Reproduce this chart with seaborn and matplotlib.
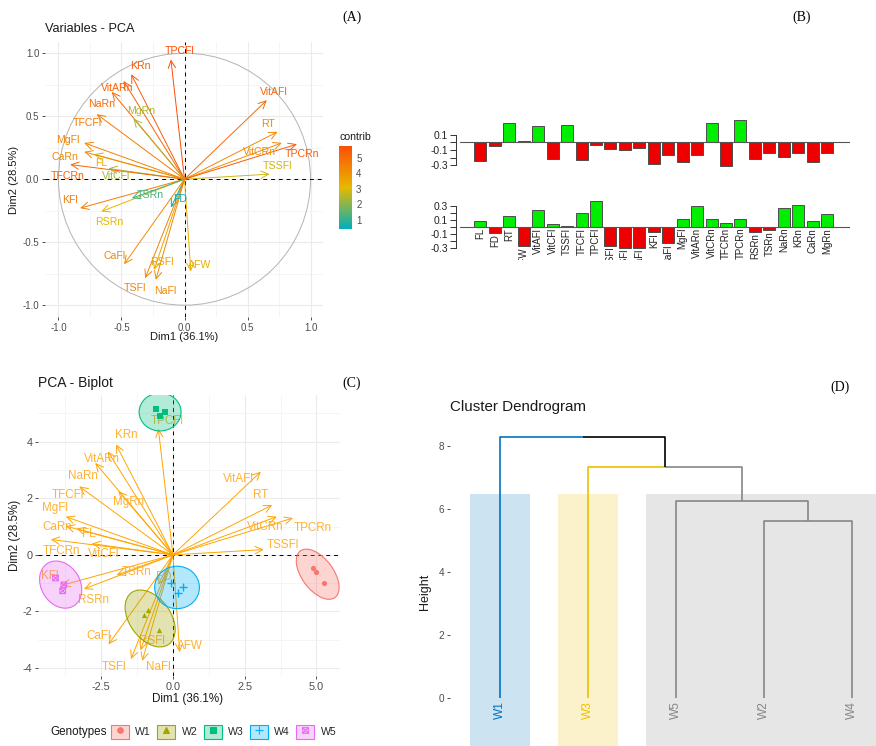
import numpy as np
import pandas as pd
import matplotlib
matplotlib.use("Agg")
import matplotlib.pyplot as plt
import seaborn as sns
from matplotlib.colors import LinearSegmentedColormap, Normalize, to_rgba
from matplotlib.patches import Ellipse, Rectangle, Circle, Patch
from matplotlib.lines import Line2D
from matplotlib.path import Path
from matplotlib.cm import ScalarMappable

# ---------------- PCA variables ----------------
variables = ["FL", "FD", "RT", "AFW", "VitAFl", "VitCFl", "TSSFl", "TFCFl", "TPCFl",
             "RSFl", "TSFl", "NaFl", "KFl", "CaFl", "MgFl", "VitARn", "VitCRn",
             "TFCRn", "TPCRn", "RSRn", "TSRn", "NaRn", "KRn", "CaRn", "MgRn"]
dim1_coord = [-0.717, -0.108, 0.738, 0.050, 0.653, -0.603, 0.675, -0.696, -0.108,
              -0.241, -0.312, -0.228, -0.828, -0.479, -0.796, -0.484, 0.772,
              -0.907, 0.892, -0.661, -0.418, -0.577, -0.423, -0.796, -0.405]
dim2_coord = [0.198, -0.225, 0.376, -0.733, 0.627, 0.085, 0.040, 0.516, 0.950,
              -0.720, -0.786, -0.799, -0.230, -0.675, 0.288, 0.780, 0.288,
              0.116, 0.278, -0.257, -0.151, 0.693, 0.833, 0.217, 0.481]
contrib = [3.43, 0.42, 4.25, 3.34, 5.07, 2.30, 2.83, 4.65, 5.75,
           3.57, 4.43, 4.27, 4.57, 4.24, 4.44, 5.22, 4.20,
           5.18, 5.41, 3.11, 1.22, 5.03, 5.41, 4.21, 2.45]
pc1_loading = [-0.24, -0.04, 0.25, 0.017, 0.22, -0.21, 0.23, -0.23, -0.03,
               -0.08, -0.10, -0.07, -0.28, -0.16, -0.26, -0.16, 0.26,
               -0.31, 0.29, -0.22, -0.14, -0.19, -0.14, -0.26, -0.14]
pc2_loading = [0.077, -0.087, 0.15, -0.28, 0.24, 0.034, 0.015, 0.20, 0.37,
               -0.275, -0.30, -0.30, -0.08, -0.24, 0.11, 0.30, 0.11,
               0.048, 0.11, -0.08, -0.053, 0.27, 0.32, 0.08, 0.18]
dim1_label = "Dim1 (36.1%)"
dim2_label = "Dim2 (28.5%)"

# ---------------- individuals ----------------
genotype_levels = ["W1", "W2", "W3", "W4", "W5"]
genotypes = ["W1"] * 3 + ["W2"] * 3 + ["W3"] * 3 + ["W4"] * 3 + ["W5"] * 3
ind_dim1 = [4.89, 4.98, 5.26, -0.88, -1.00, -0.50, -0.59, -0.29, -0.46,
            -0.07, 0.34, 0.16, -4.09, -3.80, -3.84]
ind_dim2 = [-0.45, -0.60, -1.00, -1.94, -2.13, -2.67, 5.17, 5.06, 4.92,
            -0.98, -1.14, -1.33, -0.82, -1.06, -1.27]
# concentration ellipses per genotype (semi-axes in Dim units, tilt in degrees)
ellipse_major = [1.02, 1.12, 0.73, 0.78, 0.88]
ellipse_minor = [0.55, 0.72, 0.67, 0.75, 0.68]
ellipse_angle = [-54, -55, 0, 0, -60]

# ---------------- hierarchical clustering ----------------
leaf_order = ["W1", "W3", "W5", "W2", "W4"]
merge_left = ["W2", "W5", "W3", "W1"]
merge_right = ["W4", "n1", "n2", "n3"]
merge_height = [5.63, 6.27, 7.35, 8.30]
leaf_cluster = {"W1": 0, "W3": 1, "W5": 2, "W2": 2, "W4": 2}
cluster_colors = ["#0073C2", "#EFC000", "#868686"]
cut_height = 6.5

# label nudges (pixels: right, down) for the two arrow panels
labA_off = {"TPCFl": (9, -9), "KRn": (9, -8), "VitARn": (-6, 7), "NaRn": (-10, 12),
            "MgRn": (8, -8), "TFCFl": (-9, 9), "MgFl": (-16, -3), "CaRn": (-19, 5),
            "FL": (7, 9), "TFCRn": (-3, 11), "VitCFl": (8, 8), "VitAFl": (7, -8),
            "RT": (-9, -8), "VitCRn": (-22, 9), "TPCRn": (5, 10), "TSSFl": (8, -8),
            "KFl": (-10, -8), "RSRn": (8, 10), "TSRn": (18, -3), "FD": (9, -9),
            "CaFl": (-10, -8), "RSFl": (8, -8), "AFW": (9, -7), "TSFl": (-10, 10),
            "NaFl": (9, 11)}
labC_off = {"TPCFl": (9, -8), "KRn": (10, -9), "VitARn": (-6, 8), "NaRn": (-12, 13),
            "TFCFl": (-11, 9), "MgRn": (10, 11), "MgFl": (-11, -9), "CaRn": (-9, 1),
            "FL": (12, 5), "TFCRn": (11, 12), "VitCFl": (12, 10), "VitAFl": (-22, 7),
            "RT": (-12, -10), "VitCRn": (-12, 10), "TPCRn": (20, 10), "TSSFl": (19, -5),
            "KFl": (-12, -9), "RSRn": (10, 11), "TSRn": (20, -3), "FD": (5, -8),
            "CaFl": (-10, -8), "RSFl": (11, -9), "AFW": (10, -6), "TSFl": (-17, 8),
            "NaFl": (16, 6)}

W, H = 876, 746
sns.set_theme(style="white")
plt.rcParams["font.family"] = ["Liberation Sans", "DejaVu Sans"]
fig = plt.figure(figsize=(W / 100, H / 100), dpi=100)


def add_axes_px(x0, y0, x1, y1):
    return fig.add_axes([x0 / W, 1 - y1 / H, (x1 - x0) / W, (y1 - y0) / H])


def fig_text(x, y, s, **kw):
    kw.setdefault("va", "center")
    return fig.text(x / W, 1 - y / H, s, **kw)


def minimal_style(ax, xmaj, xmin, ymaj, ymin, xlab, ylab, size):
    for s in ax.spines.values():
        s.set_visible(False)
    ax.set_xticks(xmaj)
    ax.set_xticklabels(xlab)
    ax.set_yticks(ymaj)
    ax.set_yticklabels(ylab)
    ax.set_xticks(xmin, minor=True)
    ax.set_yticks(ymin, minor=True)
    ax.grid(True, which="major", color="#EBEBEB", lw=0.8)
    ax.grid(True, which="minor", color="#F1F1F1", lw=0.5)
    ax.set_axisbelow(True)
    ax.tick_params(which="major", bottom=True, left=True, length=2.5, width=0.6,
                   color="#333333", labelsize=size, labelcolor="#4D4D4D", pad=1.5)
    ax.tick_params(which="minor", length=0)


# ======================= (A) Variables - PCA =======================
axA = add_axes_px(45, 42, 323, 317)
axA.set_xlim(-1.107, 1.099)
axA.set_ylim(-1.094, 1.089)
minimal_style(axA, [-1, -0.5, 0, 0.5, 1], [-0.75, -0.25, 0.25, 0.75],
              [-1, -0.5, 0, 0.5, 1], [-0.75, -0.25, 0.25, 0.75],
              ["-1.0", "-0.5", "0.0", "0.5", "1.0"], ["-1.0", "-0.5", "0.0", "0.5", "1.0"], 7)
axA.add_patch(Circle((0, 0), 1, fill=False, ec="#B3B3B3", lw=0.7, zorder=1))
axA.axhline(0, color="black", ls=(0, (4, 4)), lw=0.7, zorder=2)
axA.axvline(0, color="black", ls=(0, (4, 4)), lw=0.7, zorder=2)

cmap = LinearSegmentedColormap.from_list("contrib", ["#00AFBB", "#E7B800", "#FC4E07"])
norm = Normalize(min(contrib), max(contrib))
for name, x, y, c in zip(variables, dim1_coord, dim2_coord, contrib):
    col = cmap(norm(c))
    axA.annotate("", xy=(x, y), xytext=(0, 0), zorder=3,
                 arrowprops=dict(arrowstyle="->,head_length=0.45,head_width=0.22",
                                 color=col, lw=0.7, shrinkA=0, shrinkB=0))
    dx, dy = labA_off[name]
    axA.annotate(name, xy=(x, y), xytext=(dx, -dy), textcoords="offset pixels",
                 ha="center", va="center", color=col, fontsize=7.6, zorder=4)

fig_text(45, 29, "Variables - PCA", fontsize=9.2, color="#1A1A1A")
fig_text(184, 337, dim1_label, ha="center", fontsize=8, color="#1A1A1A")
fig_text(14, 180, dim2_label, ha="center", rotation=90, fontsize=8, color="#1A1A1A")

cax = add_axes_px(339, 146, 352, 229)
cb = fig.colorbar(ScalarMappable(norm=norm, cmap=cmap), cax=cax, ticks=[1, 2, 3, 4, 5])
cb.outline.set_visible(False)
cax.tick_params(left=True, right=True, direction="in", color="white", length=2.6,
                width=0.7, labelsize=7, labelcolor="#4D4D4D", pad=3)
fig_text(339, 137, "contrib", fontsize=7.6, color="#1A1A1A")

# ======================= (B) loadings bars =======================
dfb = pd.DataFrame({"variable": variables, "pc1": pc1_loading, "pc2": pc2_loading})
dfb["sign1"] = np.where(dfb["pc1"] >= 0, "pos", "neg")
dfb["sign2"] = np.where(dfb["pc2"] >= 0, "pos", "neg")
bar_pal = {"pos": "#00EE00", "neg": "#EE0000"}


def loading_panel(ax, col, sign, ylim, ticks, labels, bounds):
    sns.barplot(data=dfb, x="variable", y=col, hue=sign, palette=bar_pal, dodge=False,
                width=0.833, saturation=1, edgecolor="#4D4D4D", linewidth=0.7,
                legend=False, ax=ax, zorder=2)
    ax.set_xlim(-1.417, 25.583)
    ax.set_ylim(*ylim)
    ax.axhline(0, color="#555555", lw=0.8, zorder=3)
    for s in ["top", "right", "bottom"]:
        ax.spines[s].set_visible(False)
    ax.spines["left"].set_bounds(*bounds)
    ax.spines["left"].set_position(("outward", 3))
    ax.spines["left"].set_color("#333333")
    ax.spines["left"].set_linewidth(0.7)
    ax.set_xticks([])
    ax.set_yticks(ticks)
    ax.set_yticklabels(labels)
    ax.tick_params(axis="y", left=True, length=4, width=0.7, color="#333333",
                   labelsize=7.4, labelcolor="#222222", pad=1.5)
    ax.set_xlabel("")
    ax.set_ylabel("")
    ax.set_facecolor("none")


axB1 = add_axes_px(460, 118, 850, 168.5)
loading_panel(axB1, "pc1", "sign1", (-0.34, 0.32), [0.1, 0, -0.1, -0.2, -0.3],
              ["0.1", "", "-0.1", "", "-0.3"], (-0.3, 0.1))

axB2 = add_axes_px(460, 199.2, 850, 260)
loading_panel(axB2, "pc2", "sign2", (-0.481, 0.40), [0.3, 0.2, 0.1, 0, -0.1, -0.2, -0.3],
              ["0.3", "", "0.1", "", "-0.1", "", "-0.3"], (-0.3, 0.3))
for i, (name, v) in enumerate(zip(variables, pc2_loading)):
    axB2.text(i, min(v, 0) - 0.015, name, rotation=90, ha="center", va="top",
              fontsize=7.0, color="#222222", clip_on=True, zorder=1)

# ======================= (C) PCA - Biplot =======================
axC = add_axes_px(38, 395, 340, 676)
axC.set_xlim(-4.70, 5.82)
axC.set_ylim(-4.28, 5.65)
minimal_style(axC, [-2.5, 0, 2.5, 5.0], [-3.75, -1.25, 1.25, 3.75],
              [-4, -2, 0, 2, 4], [-3, -1, 1, 3, 5],
              ["-2.5", "0.0", "2.5", "5.0"], ["-4", "-2", "0", "2", "4"], 7.8)
axC.axhline(0, color="black", ls=(0, (4, 4)), lw=0.7, zorder=2)
axC.axvline(0, color="black", ls=(0, (4, 4)), lw=0.7, zorder=2)

ind = pd.DataFrame({"Genotypes": genotypes, "Dim1": ind_dim1, "Dim2": ind_dim2})
v1 = np.array(dim1_coord)
v2 = np.array(dim2_coord)
# arrow scaling used by factoextra biplots
r = 0.7 * min(ind["Dim1"].max() - ind["Dim1"].min() / (v1.max() - v1.min()),
              ind["Dim2"].max() - ind["Dim2"].min() / (v2.max() - v2.min()))
for name, x, y in zip(variables, v1 * r, v2 * r):
    axC.annotate("", xy=(x, y), xytext=(0, 0), zorder=3,
                 arrowprops=dict(arrowstyle="->,head_length=0.45,head_width=0.22",
                                 color="#FFA500", lw=0.7, shrinkA=0, shrinkB=0))
    dx, dy = labC_off[name]
    axC.annotate(name, xy=(x, y), xytext=(dx, -dy), textcoords="offset pixels",
                 ha="center", va="center", color="#FFB233", fontsize=8.4, zorder=3)

geno_colors = dict(zip(genotype_levels, ["#F8766D", "#A3A500", "#00BF7D", "#00B0F6", "#E76BF3"]))
square_x = Path([(-1, -1), (1, -1), (1, 1), (-1, 1), (-1, -1), (1, 1), (-1, 1), (1, -1)],
                [Path.MOVETO, Path.LINETO, Path.LINETO, Path.LINETO, Path.LINETO,
                 Path.LINETO, Path.MOVETO, Path.LINETO])
geno_markers = dict(zip(genotype_levels, ["o", "^", "s", "+", square_x]))

for g, a, b, ang in zip(genotype_levels, ellipse_major, ellipse_minor, ellipse_angle):
    sub = ind[ind["Genotypes"] == g]
    mu = sub[["Dim1", "Dim2"]].mean().to_numpy()
    col = geno_colors[g]
    axC.add_patch(Ellipse(mu, 2 * a, 2 * b, angle=ang, fc=to_rgba(col, 0.3),
                          ec=col, lw=0.8, zorder=4))
    m = geno_markers[g]
    if g == "W5":
        axC.scatter(sub["Dim1"], sub["Dim2"], marker=m, s=16, facecolors="none",
                    edgecolors=col, linewidths=0.8, zorder=5)
    elif g == "W4":
        sns.scatterplot(data=sub, x="Dim1", y="Dim2", marker="+", color=col, s=40,
                        linewidth=1.0, ax=axC, zorder=5, legend=False)
    else:
        sns.scatterplot(data=sub, x="Dim1", y="Dim2", marker=m, color=col, s=14,
                        linewidth=0, ax=axC, zorder=5, legend=False)
axC.set_xlabel("")
axC.set_ylabel("")

fig_text(38, 383, "PCA - Biplot", fontsize=10, color="#1A1A1A")
fig_text(187.5, 699, dim1_label, ha="center", fontsize=8.4, color="#1A1A1A")
fig_text(15, 535, dim2_label, ha="center", rotation=90, fontsize=8.4, color="#1A1A1A")

handles = []
for g in genotype_levels:
    col = geno_colors[g]
    m = geno_markers[g]
    filled = g in ("W1", "W2", "W3")
    mk = Line2D([], [], ls="", marker=m, markersize=4 if g != "W4" else 6,
                mfc=col if filled else "none", mec=col, mew=0.8)
    handles.append((Patch(fc=to_rgba(col, 0.3), ec=col, lw=0.8), mk))
fig.legend(handles, genotype_levels, loc="center left", bbox_to_anchor=(111 / W, 1 - 732 / H),
           ncol=5, frameon=False, fontsize=7.6, handlelength=1.7, handleheight=1.6,
           columnspacing=0.6, handletextpad=0.6, borderpad=0, borderaxespad=0)
fig_text(50, 732, "Genotypes", fontsize=8.4, color="#1A1A1A")

# ======================= (D) Cluster Dendrogram =======================
axD = add_axes_px(449.5, 430, 876, 746)
axD.set_xlim(0.426, 5.273)
axD.set_ylim(-1.514, 8.52)
for s in axD.spines.values():
    s.set_visible(False)

leaf_x = {name: i + 1 for i, name in enumerate(leaf_order)}
node_x, node_h, node_col = dict(leaf_x), {n: 0.0 for n in leaf_order}, {}
for n in leaf_order:
    node_col[n] = cluster_colors[leaf_cluster[n]]
for k, (a, b, h) in enumerate(zip(merge_left, merge_right, merge_height)):
    name = f"n{k + 1}"
    node_x[name] = (node_x[a] + node_x[b]) / 2
    node_h[name] = h
    node_col[name] = node_col[a] if node_col[a] == node_col[b] else "black"
    for child in (a, b):
        c = node_col[child]
        axD.plot([node_x[name], node_x[child], node_x[child]], [h, h, node_h[child]],
                 color=c, lw=1.2, solid_capstyle="butt", zorder=2)

for ci, col in enumerate(cluster_colors):
    xs = [leaf_x[n] for n in leaf_order if leaf_cluster[n] == ci]
    axD.add_patch(Rectangle((min(xs) - 0.34, -2), max(xs) - min(xs) + 0.68, cut_height + 2,
                            fc=to_rgba(col, 0.2), ec="none", zorder=0))
for n in leaf_order:
    axD.text(leaf_x[n], -0.1, n, rotation=90, ha="center", va="top", fontsize=8.6,
             color=node_col[n], zorder=3)

axD.set_xticks([])
axD.set_yticks([0, 2, 4, 6, 8])
axD.tick_params(axis="y", left=True, length=2.5, width=0.6, color="#333333",
                labelsize=7.2, labelcolor="#4D4D4D", pad=1.5)
axD.set_facecolor("none")
fig_text(425, 592, "Height", ha="center", rotation=90, fontsize=9, color="#1A1A1A")
fig_text(450, 407, "Cluster Dendrogram", fontsize=10.9, color="#1A1A1A")

# panel letters
for lab, x, y in [("(A)", 352, 17), ("(B)", 802, 17), ("(C)", 352, 383), ("(D)", 840, 387)]:
    fig_text(x, y, lab, ha="center", fontsize=10, family="Liberation Serif", color="black")

fig.savefig("out.png", dpi=100)
